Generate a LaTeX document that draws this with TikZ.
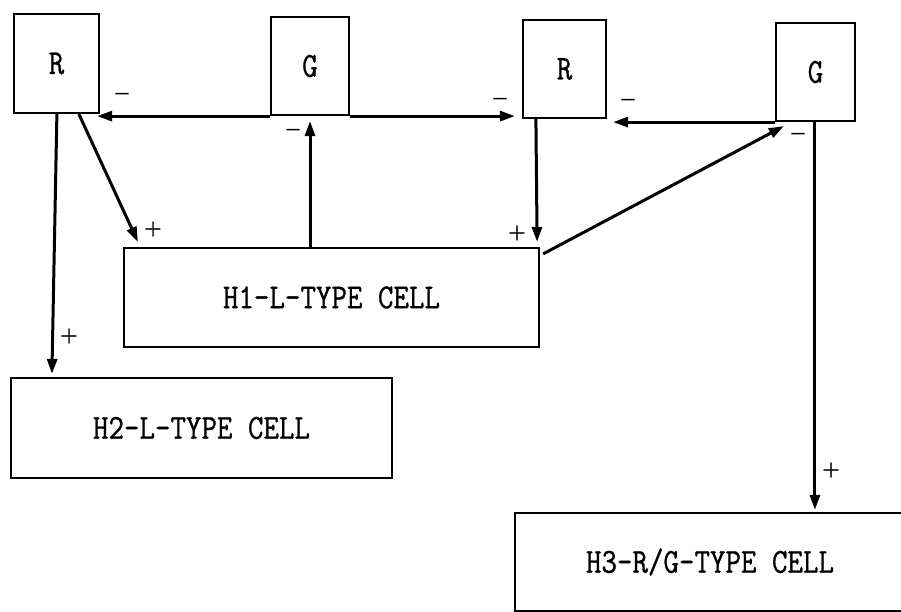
\documentclass[tikz,border=0pt]{standalone}
\usepackage{fontspec}
\newfontfamily\twfont[FakeStretch=0.86,FakeBold=0.8]{Latin Modern Mono}
\newfontfamily\sgnfont[FakeBold=1.5]{Latin Modern Roman}
\newfontfamily\negfont[FakeBold=4]{Latin Modern Roman}
\usetikzlibrary{arrows.meta,calc}
\begin{document}
\begin{tikzpicture}[x=1pt,y=-1pt,
  box/.style={draw, line width=2.2pt, inner sep=0pt, font=\twfont\fontsize{35}{35}\selectfont},
  arr/.style={line width=3pt, -{Triangle[length=15pt,width=10pt]}},
  sgn/.style={font=\sgnfont\fontsize{24}{24}\selectfont, inner sep=0pt},
  neg/.style={font=\negfont\fontsize{26}{26}\selectfont, inner sep=0pt}]
\useasboundingbox (0,0) rectangle (901,612);
\clip (0,0) rectangle (901,612);
% boxes
\node[box, minimum width=85pt, minimum height=99pt] (R1) at (56.5,63.5) {R};
\node[box, minimum width=78pt, minimum height=98pt] (G1) at (310,66) {G};
\node[box, minimum width=83pt, minimum height=98pt] (R2) at (564.5,69) {R};
\node[box, minimum width=79pt, minimum height=98pt] (G2) at (815.5,72) {G};
\node[box, minimum width=415pt, minimum height=99pt] (H1) at (331.5,297.5) {H1-L-TYPE CELL};
\node[box, minimum width=381pt, minimum height=100pt] (H2) at (201.5,428) {H2-L-TYPE CELL};
\node[box, minimum width=390pt, minimum height=98pt] (H3) at (710,562) {H3-R/G-TYPE CELL};
% helper coordinates
\coordinate (r1a) at ($(R1.south west)+(66,0)$);
\coordinate (r1b) at ($(R1.south west)+(44,0)$);
\coordinate (r2a) at ($(R2.south west)+(14,0)$);
\coordinate (g2b) at ($(G2.south west)+(40,0)$);
\coordinate (h1a) at ($(H1.north west)+(15,-5)$);
\coordinate (h1b) at ($(H1.north east)+(-3,-5)$);
\coordinate (h1c) at ($(H1.north east)+(3,7)$);
\coordinate (h2a) at ($(H2.north west)+(42,-3)$);
\coordinate (g2a) at ($(G2.south west)+(9,4)$);
% connectors
\draw[arr, shorten >=-3pt] (G1.south west) -- (G1.south west -| R1.east);
\draw[arr, shorten >=7pt] (G1.south east) -- (G1.south east -| R2.west);
\draw[arr, shorten >=6pt] (G2.south west) -- (G2.south west -| R2.east);
\draw[arr, shorten >=5pt] (G1.south |- H1.north) -- (G1.south);
\draw[arr] (r1a) -- (h1a);
\draw[arr] (r1b) -- (h2a);
\draw[arr] (r2a) -- (h1b);
\draw[arr] (h1c) -- (g2a);
\draw[arr, shorten >=2pt] (g2b) -- (g2b |- H3.north);
% signs
\node[neg] (m1) at (122,97) {–};
\node[neg] (m2) at (500,102) {–};
\node[neg] (m3) at (628,103) {–};
\node[neg] (m4) at (293,133) {–};
\node[neg] (m5) at (798,137) {–};
\node[sgn] (p1) at (153,229) {+};
\node[sgn] (p2) at (69,336) {+};
\node[sgn] (p3) at (517,233) {+};
\node[sgn] (p4) at (831,470) {+};
\end{tikzpicture}
\end{document}
